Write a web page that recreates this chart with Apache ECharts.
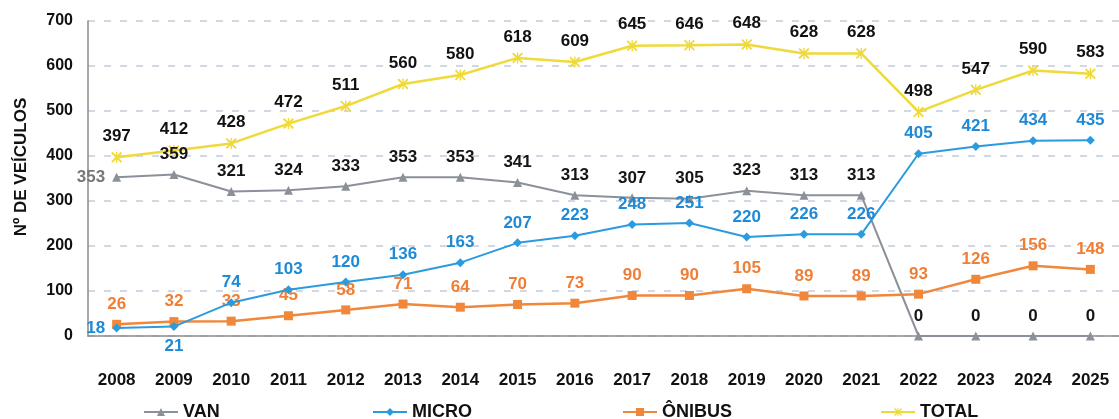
<!DOCTYPE html>
<html><head><meta charset="utf-8">
<script src="https://cdn.jsdelivr.net/npm/echarts@6/dist/echarts.min.js"></script>
<style>html,body{margin:0;padding:0;background:#fff}#c{width:1119px;height:419px}</style>
</head><body><div id="c"></div>
<script>
const years = ['2008','2009','2010','2011','2012','2013','2014','2015','2016','2017','2018','2019','2020','2021','2022','2023','2024','2025'];
const van    = [353,359,321,324,333,353,353,341,313,307,305,323,313,313,0,0,0,0];
const micro  = [18,21,74,103,120,136,163,207,223,248,251,220,226,226,405,421,434,435];
const onibus = [26,32,33,45,58,71,64,70,73,90,90,105,89,89,93,126,156,148];
const total  = [397,412,428,472,511,560,580,618,609,645,646,648,628,628,498,547,590,583];
const yTicks = [0,100,200,300,400,500,600,700];
const yName = 'Nº DE VEÍCULOS';

const FONT = 'Liberation Sans, Arial, sans-serif';
const C = {van:'#8c9099', micro:'#2b9be0', onibus:'#f0873a', total:'#f0d93a'};
const lbl = (color) => ({show:true, position:'top', distance:7, color:color, fontSize:17, fontWeight:'bold', fontFamily:FONT});

const crossPath = 'path://M0,1.2 L1.2,0 L5,3.8 L8.8,0 L10,1.2 L6.2,5 L10,8.8 L8.8,10 L5,6.2 L1.2,10 L0,8.8 L3.8,5 Z M4.4,0 L5.6,0 L5.6,10 L4.4,10 Z';

const chart = echarts.init(document.getElementById('c'));
chart.setOption({
  animation:false,
  grid:{left:88, top:21, width:1038, height:315},
  graphic:[{type:'text', x:21, y:167, rotation:Math.PI/2,
    style:{text:yName, fill:'#111', font:'bold 17px ' + FONT, align:'center', verticalAlign:'middle'}}],
  xAxis:{type:'category', data:years, boundaryGap:true,
    axisLine:{lineStyle:{color:'#8a8a8a', width:1.5}}, axisTick:{show:false},
    axisLabel:{margin:36, color:'#111', fontSize:17, fontWeight:'bold', fontFamily:FONT}},
  yAxis:{type:'value', min:0, max:700, interval:100,
    axisLine:{show:true, lineStyle:{color:'#8a8a8a', width:1.5}},
    axisLabel:{margin:15, color:'#111', fontSize:16, fontWeight:'bold', fontFamily:FONT,
      formatter:(v)=> yTicks.includes(v) ? String(v) : ''},
    splitLine:{lineStyle:{color:'#c5cbe0', type:[7,9], width:1.5}}},
  legend:[
    {data:['VAN'], left:143, top:403},
    {data:['MICRO'], left:372, top:403},
    {data:['ÔNIBUS'], left:622, top:403},
    {data:['TOTAL'], left:880, top:403}
  ].map(l=>Object.assign(l,{itemWidth:34, itemHeight:10, itemGap:4, padding:0,
     textStyle:{color:'#111', fontSize:18, fontWeight:'bold', fontFamily:FONT}})),
  series:[
    {name:'VAN', type:'line', data: van.map((v,i)=> i===0 ? {value:v, label:{position:'left', color:'#777'}} : v),
     color:C.van, symbol:'triangle', symbolSize:9, lineStyle:{width:2}, label:lbl('#151515'), z:3},
    {name:'MICRO', type:'line', data: micro.map((v,i)=> i===0 ? {value:v, label:{position:'left'}} : (i===1 ? {value:v, label:{position:'bottom'}} : v)),
     color:C.micro, symbol:'diamond', symbolSize:9, lineStyle:{width:2}, label:lbl('#1e8ad6'), z:4},
    {name:'ÔNIBUS', type:'line', data: onibus,
     color:C.onibus, symbol:'rect', symbolSize:9, lineStyle:{width:2.5}, label:lbl('#ef7f36'), z:3},
    {name:'TOTAL', type:'line', data: total,
     color:C.total, symbol:crossPath, symbolSize:11, itemStyle:{borderWidth:0}, lineStyle:{width:2.5}, label:lbl('#111'), z:2}
  ]
});
</script></body></html>
